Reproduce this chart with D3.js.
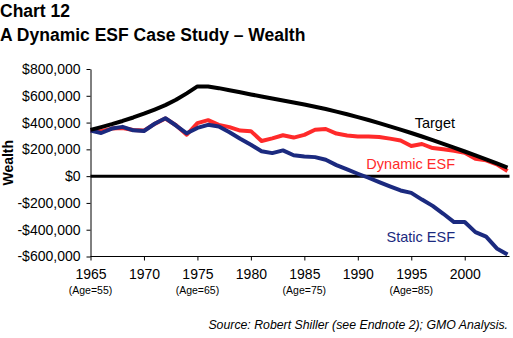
<!DOCTYPE html>
<html>
<head>
<meta charset="utf-8">
<script src="https://cdn.jsdelivr.net/npm/d3@7"></script>
<style>
  body { margin: 0; background: #fff; }
  svg { display: block; font-family: "Liberation Sans", Arial, sans-serif; }
</style>
</head>
<body>
<div id="chart"></div>
<script>
// yearly wealth, 1965-2004
const years = d3.range(1965, 2005)
const target = [345, 366, 388, 412, 438, 466, 497, 530, 570, 618, 670, 670, 657, 642, 626, 610,
  595, 580, 565, 550, 535, 518, 501, 482, 462, 441, 419, 396, 372, 347, 322, 296, 269, 241, 213, 184,
  155, 125, 95, 63].map(v => v * 1000)
const dynamicEsf = [340, 335, 355, 360, 345, 340, 390, 430, 380, 309, 396, 418, 383, 366, 340, 336,
  262, 282, 305, 288, 308, 346, 352, 318, 304, 296, 296, 292, 280, 266, 225, 240, 210, 200, 190, 175,
  130, 118, 88, 38].map(v => v * 1000)
const staticEsf = [340, 322, 355, 368, 342, 337, 391, 433, 378, 320, 360, 383, 371, 328, 279, 234,
  186, 172, 192, 156, 146, 142, 122, 82, 50, 18, -12, -45, -77, -107, -125, -175, -222, -281, -343, -343,
  -418, -452, -540, -585].map(v => v * 1000)

const yTicks = [-600000, -400000, -200000, 0, 200000, 400000, 600000, 800000]
const xTicks = [1965, 1970, 1975, 1980, 1985, 1990, 1995, 2000]
const ageLabels = [[1965, '(Age=55)'], [1975, '(Age=65)'], [1985, '(Age=75)'], [1995, '(Age=85)']]

const series = [
  { name: 'Dynamic ESF', values: dynamicEsf, color: '#ff2a2a', labelY: 169 },
  { name: 'Static ESF', values: staticEsf, color: '#1b2a7f', labelY: 242 },
  { name: 'Target', values: target, color: '#000', labelY: 128 }
]

const W = 513
const H = 338

const svg = d3.select('#chart')
  .append('svg')
  .attr('width', W)
  .attr('height', H)

svg.append('text')
  .attr('x', 0).attr('y', 17)
  .attr('font-size', 17.5).attr('font-weight', 'bold')
  .text('Chart 12')
svg.append('text')
  .attr('x', 0).attr('y', 41)
  .attr('font-size', 17.5).attr('font-weight', 'bold')
  .text('A Dynamic ESF Case Study – Wealth')

const x = d3.scaleLinear().domain([1965, 2004]).range([90.5, 507.5])
const y = d3.scaleLinear().domain([-600000, 800000]).range([256.5, 69])

const fmt = v => (v < 0 ? '-$' : '$') + d3.format(',')(Math.abs(v))

const yAxis = svg.append('g')
  .attr('transform', 'translate(90.5,0)')
  .call(d3.axisLeft(y).tickValues(yTicks).tickFormat(fmt).tickSize(4).tickPadding(6).tickSizeOuter(0))
yAxis.selectAll('text').attr('font-size', 14).attr('fill', '#000').attr('font-family', null)
yAxis.selectAll('line, path').attr('stroke', '#000')

const xAxis = svg.append('g')
  .attr('transform', `translate(0,${y(-600000)})`)
  .call(d3.axisBottom(x).tickValues(xTicks).tickFormat(d3.format('d')).tickSize(4).tickPadding(9).tickSizeOuter(0))
xAxis.select('.domain').attr('d', `M${x(1965)},0H${x(2004) + 2}`)
xAxis.selectAll('text').attr('font-size', 14).attr('fill', '#000').attr('font-family', null)
xAxis.selectAll('line, path').attr('stroke', '#000')

svg.append('g')
  .selectAll('text')
  .data(ageLabels)
  .join('text')
  .attr('x', d => x(d[0]))
  .attr('y', 294)
  .attr('text-anchor', 'middle')
  .attr('font-size', 10.5)
  .text(d => d[1])

svg.append('text')
  .attr('transform', `translate(12.5,${(y(800000) + y(-600000)) / 2}) rotate(-90)`)
  .attr('text-anchor', 'middle')
  .attr('font-size', 14).attr('font-weight', 'bold')
  .text('Wealth')

// zero line
svg.append('line')
  .attr('x1', x(1965)).attr('x2', x(2004) + 2)
  .attr('y1', y(0)).attr('y2', y(0))
  .attr('stroke', '#000').attr('stroke-width', 3)

const line = d3.line()
  .x((d, i) => x(years[i]))
  .y(d => y(d))

svg.append('g')
  .selectAll('path')
  .data(series)
  .join('path')
  .attr('d', d => line(d.values))
  .attr('fill', 'none')
  .attr('stroke', d => d.color)
  .attr('stroke-width', 4)
  .attr('stroke-linejoin', 'round')

svg.append('g')
  .selectAll('text')
  .data(series)
  .join('text')
  .attr('x', 455)
  .attr('y', d => d.labelY)
  .attr('text-anchor', 'end')
  .attr('font-size', 14.5)
  .attr('fill', d => d.color)
  .text(d => d.name)

svg.append('text')
  .attr('x', 508).attr('y', 329)
  .attr('text-anchor', 'end')
  .attr('font-size', 12.3).attr('font-style', 'italic')
  .text('Source: Robert Shiller (see Endnote 2); GMO Analysis.')
</script>
</body>
</html>
